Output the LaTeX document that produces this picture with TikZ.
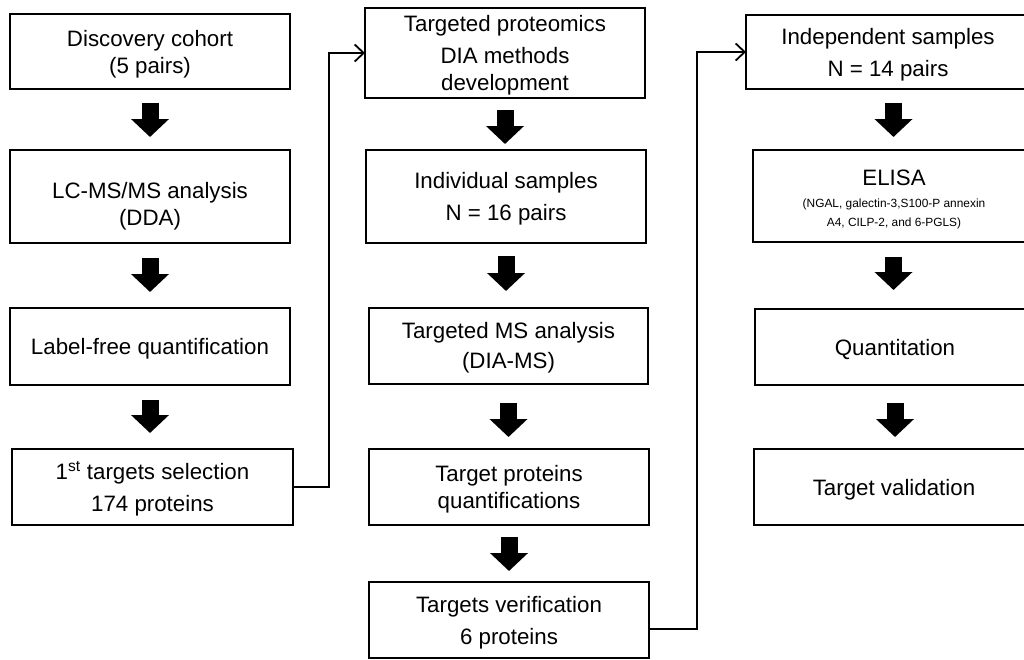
\documentclass[tikz,border=0pt]{standalone}
\usepackage{fontspec}
\setmainfont{Liberation Sans}
\usetikzlibrary{arrows.meta,calc}
\newcommand\mylift[1][21pt]{\rule{0pt}{#1}}
\begin{document}
\begin{tikzpicture}[x=1pt,y=-1pt,
  box/.style={draw=black, line width=1.8pt, inner sep=0pt, outer sep=0pt,
    align=center, text=black, font=\fontsize{22.3pt}{27pt}\selectfont},
  widebox/.style={font=\fontsize{22.3pt}{32pt}\selectfont},
  txt/.style={inner sep=0pt, outer sep=0pt, anchor=base, text=black},
  blk/.style={line width=17pt, line cap=butt, draw=black,
    -{Triangle[width=37pt,length=18pt]}},
  conn/.style={line width=1.8pt, draw=black,
    -{Straight Barb[length=9pt,width=17pt]}}]
\useasboundingbox (0,0) rectangle (1024,659);
\clip (0,0) rectangle (1024,659);

% column 1
\node[box, minimum width=280pt, minimum height=75pt] (b1) at (150,51.5) {\mylift Discovery cohort\\(5 pairs)};
\node[box, minimum width=280pt, minimum height=93pt] (b2) at (150,196.5) {\mylift[36pt]LC-MS/MS analysis\\(DDA)};
\node[box, minimum width=280pt, minimum height=77pt] (b3) at (150,346.5) {\mylift Label-free quantification};
\node[box, widebox, minimum width=281pt, minimum height=76pt] (b4) at (152.5,487) {\mylift 1\textsuperscript{st} targets selection\\174 proteins};

% column 2
\node[box, minimum width=280pt, minimum height=90pt] (b5) at (505,53) {\mylift Targeted proteomics\\[5pt]DIA methods\\development};
\node[box, widebox, minimum width=280pt, minimum height=93pt] (b6) at (506,196.5) {\mylift Individual samples\\N = 16 pairs};
\node[box, minimum width=279pt, minimum height=76pt] (b7) at (508.5,346) {\mylift[19pt]Targeted MS analysis\\[3pt](DIA-MS)};
\node[box, minimum width=280pt, minimum height=76pt] (b8) at (509,487) {\mylift Target proteins\\quantifications};
\node[box, widebox, minimum width=280pt, minimum height=76pt] (b9) at (509,620) {\mylift Targets verification\\6 proteins};

% column 3
\node[box, widebox, minimum width=284pt, minimum height=74pt] (b10) at (888,52) {\mylift Independent samples\\N = 14 pairs};
\node[box, minimum width=281pt, minimum height=92pt] (b11) at (893.5,196) {};
\node[txt, font=\fontsize{22.3pt}{27pt}\selectfont] (t11a) at (894,185) {ELISA};
\node[txt, font=\fontsize{11.9pt}{19pt}\selectfont] (t11b) at (894,207) {(NGAL, galectin-3,S100-P annexin};
\node[txt, font=\fontsize{11.9pt}{19pt}\selectfont] (t11c) at (894,226) {A4, CILP-2, and 6-PGLS)};
\node[box, minimum width=280pt, minimum height=76pt] (b12) at (895,347) {\mylift Quantitation};
\node[box, minimum width=280pt, minimum height=76pt] (b13) at (894,487) {\mylift Target validation};

% block arrows
\draw[blk, shorten <=14pt, shorten >=13pt] (b1.south) -- (b1.south |- b2.north);
\draw[blk, shorten <=15pt, shorten >=16pt] (b2.south) -- (b2.south |- b3.north);
\draw[blk, shorten <=15pt, shorten >=16pt] (b3.south) -- (b3.south |- b4.north);
\draw[blk, shorten <=12pt, shorten >=6pt] (b5.south) -- (b5.south |- b6.north);
\draw[blk, shorten <=13pt, shorten >=17pt] (b6.south) -- (b6.south |- b7.north);
\draw[blk, shorten <=19pt, shorten >=12pt] (b7.south) -- (b7.south |- b8.north);
\draw[blk, shorten <=12pt, shorten >=11pt] (b8.south) -- (b8.south |- b9.north);
\draw[blk, shorten <=14pt, shorten >=13pt] (b10.south -| b11.north) -- (b11.north);
\draw[blk, shorten <=15pt, shorten >=19pt] (b11.south) -- (b11.south |- b12.north);
\draw[blk, shorten <=18pt, shorten >=12pt] (b12.south) -- (b12.south |- b13.north);

% connectors between columns
\coordinate (j1) at ([xshift=-36pt]b5.west);
\draw[conn] (b4.east) -| (j1) -- (b5.west);
\coordinate (s2) at ([yshift=-9pt]b9.east);
\coordinate (j2) at ([xshift=-49pt]b10.west);
\draw[conn] (s2) -| (j2) -- (b10.west);
\end{tikzpicture}
\end{document}
